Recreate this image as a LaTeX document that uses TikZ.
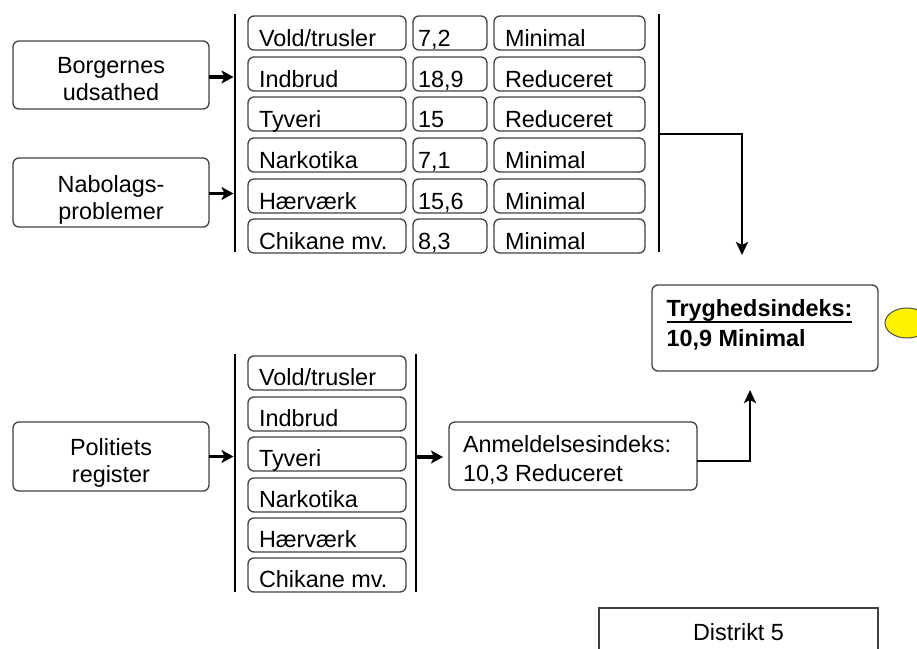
\documentclass[tikz,border=0pt]{standalone}
\usepackage{fontspec}
\setmainfont{Liberation Sans}
\usetikzlibrary{calc,arrows.meta,shapes.geometric}
\begin{document}
\begin{tikzpicture}[x=1pt,y=-1pt,
  every node/.style={font=\fontsize{23.4}{27}\selectfont, inner sep=0pt, outer sep=0pt},
  box/.style={draw=black!75, line width=1.3pt, rounded corners=6pt, anchor=north west},
  sqbox/.style={draw=black!75, line width=1.3pt, anchor=north west},
  txt/.style={anchor=base west},
  ctxt/.style={anchor=base},
  bar/.style={line width=2.4pt, draw=black},
  arr/.style={line width=3.5pt, -{Stealth[length=12pt,width=13pt,inset=3pt]}},
  conn/.style={line width=2.8pt, -{Stealth[length=13pt,width=12pt,inset=3pt]}},
]
\useasboundingbox (0,0) rectangle (917,648);

% ---------- upper part: survey ----------
\node[box, minimum width=196pt, minimum height=68pt] (bu) at (13,41) {};
\node[ctxt] (bu1) at (111,73.5) {Borgernes};
\node[ctxt] (bu2) at (111,100.5) {udsathed};
\node[box, minimum width=196pt, minimum height=69pt] (nb) at (13,158) {};
\node[ctxt] (nb1) at (111,192) {Nabolags-};
\node[ctxt] (nb2) at (111,219) {problemer};

\coordinate (b1t) at (235,14); \coordinate (b1b) at (235,252);
\coordinate (b2t) at (659,14); \coordinate (b2b) at (659,252);
\draw[bar] (b1t) -- (b1b);
\draw[bar] (b2t) -- (b2b);

\foreach \i/\y/\a/\b/\c in {1/16/{Vold/trusler}/{7,2}/Minimal,
                             2/57/Indbrud/{18,9}/Reduceret,
                             3/97/Tyveri/15/Reduceret,
                             4/138/Narkotika/{7,1}/Minimal,
                             5/179/Hærværk/{15,6}/Minimal,
                             6/219/{Chikane mv.}/{8,3}/Minimal}{
  \node[box, minimum width=158pt, minimum height=34pt] (ta\i) at (248,\y) {};
  \node[txt] (tat\i) at (259,\y+30) {\a};
  \node[box, minimum width=74pt, minimum height=34pt] (tb\i) at (413,\y) {};
  \node[txt] (tbt\i) at (418,\y+30) {\b};
  \node[box, minimum width=151pt, minimum height=34pt] (tc\i) at (494,\y) {};
  \node[txt] (tct\i) at (505,\y+30) {\c};
}

\draw[arr, shorten >=1.5pt] ($(bu.east)+(0,2)$) -- ($(bu.east -| b1t)+(0,2)$);
\draw[arr, shorten >=1.5pt] ($(nb.east)+(0,1)$) -- ($(nb.east -| b1t)+(0,1)$);

% ---------- result ----------
\node[box, minimum width=226pt, minimum height=86pt] (tr) at (652,285) {};
\node[txt] (tr1) at (666.5,316.5) {\bfseries Tryghedsindeks:};
\draw[line width=2pt] ($(tr1.base west)+(0,5.5)$) -- ($(tr1.base east)+(0,5.5)$);
\node[txt] (tr2) at (666.5,346) {\bfseries 10,9 Minimal};
\node[ellipse, draw=black!70, line width=1pt, fill=yellow, minimum width=44pt, minimum height=30pt] (ye) at (907,323) {};

\coordinate (c1s) at (659,134);
\coordinate (c1e) at (742,255);
\draw[conn] (c1s) -| (c1e);

% ---------- lower part: police register ----------
\node[box, minimum width=196pt, minimum height=69pt] (po) at (13,422) {};
\node[ctxt] (po1) at (111,455) {Politiets};
\node[ctxt] (po2) at (111,482) {register};

\coordinate (b3t) at (235,354); \coordinate (b3b) at (235,592);
\coordinate (b4t) at (416,354); \coordinate (b4b) at (416,592);
\draw[bar] (b3t) -- (b3b);
\draw[bar] (b4t) -- (b4b);

\foreach \i/\y/\a in {1/356/{Vold/trusler}, 2/397/Indbrud, 3/437/Tyveri,
                      4/478/Narkotika, 5/518/Hærværk, 6/558/{Chikane mv.}}{
  \node[box, minimum width=158pt, minimum height=34pt] (pa\i) at (248,\y) {};
  \node[txt] (pat\i) at (259,\y+29) {\a};
}

\draw[arr, shorten >=1.5pt] (po.east) -- (po.east -| b3t);

\node[box, minimum width=248pt, minimum height=68pt] (an) at (449,422) {};
\node[txt] (an1) at (463,452.5) {Anmeldelsesindeks:};
\node[txt] (an2) at (463,481.5) {10,3 Reduceret};
\draw[arr, shorten >=6pt] ($(an.west -| b4t)+(0,1)$) -- ($(an.west)+(0,1)$);

\coordinate (c2e) at (750,390);
\draw[conn] ($(an.east)+(0,5)$) -| (c2e);

% ---------- district ----------
\node[sqbox, minimum width=279pt, minimum height=60pt] (di) at (599,608) {};
\node[ctxt] (di1) at (738.5,640.5) {Distrikt 5};
\end{tikzpicture}
\end{document}
